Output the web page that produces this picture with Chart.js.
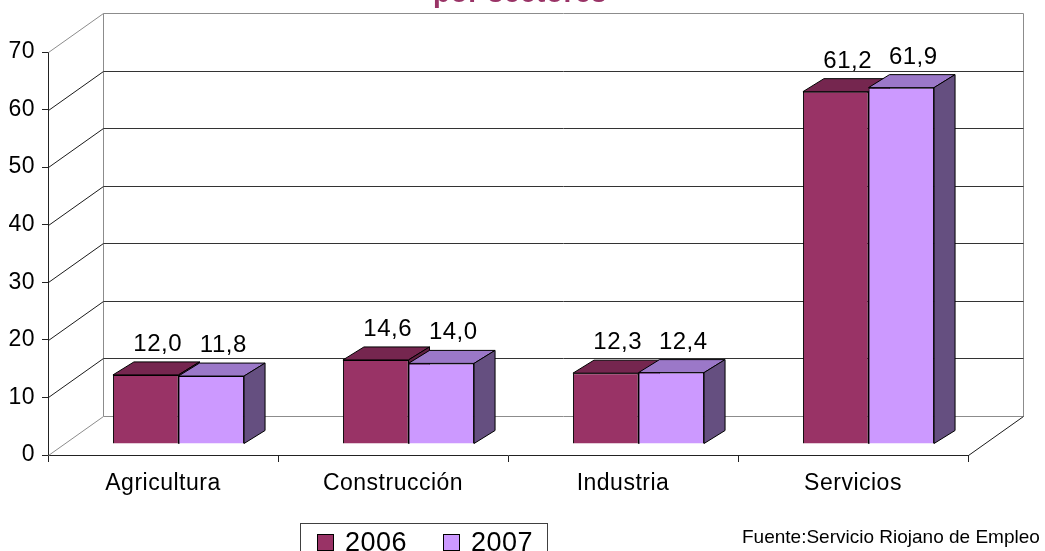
<!DOCTYPE html>
<html><head><meta charset="utf-8">
<script src="https://cdn.jsdelivr.net/npm/chart.js@4.4.1/dist/chart.umd.min.js"></script>
<style>html,body{margin:0;padding:0;background:#fff;overflow:hidden}canvas{display:block}</style>
</head><body>
<canvas id="c" width="1045" height="551"></canvas>
<script>
const categories = ['Agricultura', 'Construcción', 'Industria', 'Servicios'];
const series2006 = [12.0, 14.6, 12.3, 61.2];
const series2007 = [11.8, 14.0, 12.4, 61.9];
const seriesLabels = ['2006', '2007'];
const yTicks = [0, 10, 20, 30, 40, 50, 60, 70];
const titleText = 'por sectores';
const sourceText = 'Fuente:Servicio Riojano de Empleo';

const FONT = "'Liberation Sans', Arial, Helvetica, sans-serif";
const FRONT = ['#993366', '#CC99FF'];
const TOP = ['#75264F', '#9B78C8'];
const SIDE = ['#5E1F40', '#654F80'];
const BAR_DX = 15.5, BAR_DY = -11;
const DEPTH_DX = 21, DEPTH_DY = -13;
const WALL_DX = 55, WALL_DY = -39;

function poly(ctx, pts, fill) {
  ctx.beginPath();
  ctx.moveTo(pts[0][0], pts[0][1]);
  for (let k = 1; k < pts.length; k++) ctx.lineTo(pts[k][0], pts[k][1]);
  ctx.closePath();
  ctx.fillStyle = fill; ctx.fill();
  ctx.strokeStyle = '#000'; ctx.lineWidth = 1; ctx.stroke();
}

const threeD = {
  id: 'threeD',
  beforeDraw(chart) {
    chart.ctx.letterSpacing = '0.5px';
  },
  beforeDatasetsDraw(chart) {
    const { ctx, chartArea: a, scales: { y } } = chart;
    const L = a.left + 0.5, R = a.right + 0.5;
    ctx.save();
    ctx.lineWidth = 1;
    const maxV = yTicks[yTicks.length - 1];
    const topBack = Math.round(y.getPixelForValue(maxV)) + 0.5 + WALL_DY;
    const botBack = Math.round(y.getPixelForValue(0)) + 0.5 + WALL_DY;
    ctx.strokeStyle = '#8c8c8c';
    ctx.beginPath();
    ctx.moveTo(L + WALL_DX, topBack); ctx.lineTo(L + WALL_DX, botBack);
    ctx.moveTo(R + WALL_DX, topBack); ctx.lineTo(R + WALL_DX, botBack);
    ctx.stroke();
    yTicks.forEach(v => {
      const py = Math.round(y.getPixelForValue(v)) + 0.5;
      const edge = (v === 0 || v === maxV);
      ctx.beginPath();
      ctx.moveTo(L, py); ctx.lineTo(L + WALL_DX, py + WALL_DY);
      ctx.strokeStyle = edge ? '#8c8c8c' : '#1a1a1a';
      ctx.stroke();
      ctx.beginPath();
      ctx.moveTo(L + WALL_DX, py + WALL_DY); ctx.lineTo(R + WALL_DX, py + WALL_DY);
      ctx.strokeStyle = edge ? '#8c8c8c' : '#333';
      ctx.stroke();
      if (v === 0) {
        ctx.beginPath();
        ctx.moveTo(R, py); ctx.lineTo(R + WALL_DX, py + WALL_DY);
        ctx.strokeStyle = '#1a1a1a';
        ctx.stroke();
      }
    });
    ctx.restore();
    ctx.save();
    ctx.translate(BAR_DX, BAR_DY);
    categories.forEach((c, i) => {
      chart.data.datasets.forEach((ds, d) => {
        const el = chart.getDatasetMeta(d).data[i];
        const p = el.getProps(['x', 'y', 'base', 'width'], true);
        const l = p.x - p.width / 2, r = p.x + p.width / 2;
        poly(ctx, [[l, p.y], [r, p.y], [r + DEPTH_DX, p.y + DEPTH_DY], [l + DEPTH_DX, p.y + DEPTH_DY]], TOP[d]);
        poly(ctx, [[r, p.y], [r + DEPTH_DX, p.y + DEPTH_DY], [r + DEPTH_DX, p.base + DEPTH_DY], [r, p.base]], SIDE[d]);
      });
    });
  },
  afterDatasetsDraw(chart) {
    const { ctx } = chart;
    ctx.font = '24px ' + FONT;
    ctx.fillStyle = '#000';
    ctx.textAlign = 'center';
    ctx.textBaseline = 'alphabetic';
    chart.data.datasets.forEach((ds, d) => {
      chart.getDatasetMeta(d).data.forEach((el, i) => {
        const txt = ds.data[i].toFixed(1).replace('.', ',');
        ctx.fillText(txt, el.x + 12, el.y - 24);
      });
    });
    ctx.restore();
  },
  afterDraw(chart) {
    const { ctx } = chart;
    ctx.save();
    ctx.font = 'bold 28px ' + FONT;
    ctx.fillStyle = '#993366';
    ctx.textAlign = 'center';
    ctx.textBaseline = 'alphabetic';
    ctx.fillText(titleText, 520, 2);
    ctx.strokeStyle = '#404040';
    ctx.lineWidth = 1;
    ctx.strokeRect(300.5, 523.5, 247, 40);
    const lx = [317, 443];
    ctx.font = '27px ' + FONT;
    ctx.textAlign = 'left';
    chart.data.datasets.forEach((ds, d) => {
      ctx.fillStyle = FRONT[d];
      ctx.fillRect(lx[d] + 0.5, 534.5, 16, 16);
      ctx.strokeStyle = '#000';
      ctx.strokeRect(lx[d] + 0.5, 534.5, 16, 16);
      ctx.fillStyle = '#000';
      ctx.fillText(ds.label, lx[d] + 28, 551);
    });
    ctx.font = '19px ' + FONT;
    ctx.letterSpacing = '0px';
    ctx.fillStyle = '#000';
    ctx.fillText(sourceText, 742, 543);
    ctx.restore();
  }
};

new Chart(document.getElementById('c'), {
  type: 'bar',
  data: {
    labels: categories,
    datasets: [
      { label: seriesLabels[0], data: series2006, backgroundColor: FRONT[0], borderColor: '#000', borderWidth: 1, clip: false },
      { label: seriesLabels[1], data: series2007, backgroundColor: FRONT[1], borderColor: '#000', borderWidth: 1, clip: false }
    ]
  },
  options: {
    responsive: false,
    animation: false,
    devicePixelRatio: 1,
    layout: { padding: { top: 52, right: 77, left: 0, bottom: 0 } },
    datasets: { bar: { categoryPercentage: 0.57, barPercentage: 1.0 } },
    plugins: { legend: { display: false }, title: { display: false }, tooltip: { enabled: false } },
    events: [],
    scales: {
      x: {
        grid: { offset: true, drawOnChartArea: false, drawTicks: true, tickLength: 7, color: '#222' },
        border: { display: true, color: '#222' },
        ticks: { font: { family: FONT, size: 23 }, color: '#000', padding: 8, maxRotation: 0 },
        afterFit(s) { s.height = 96; }
      },
      y: {
        min: 0, max: 70,
        afterBuildTicks(s) { s.ticks = yTicks.map(v => ({ value: v })); },
        grid: { drawOnChartArea: false, drawTicks: true, tickLength: 6, color: '#222' },
        border: { display: true, color: '#222' },
        ticks: { font: { family: FONT, size: 23 }, color: '#000', padding: 7 },
        afterFit(s) { s.width = 48; }
      }
    }
  },
  plugins: [threeD]
});
</script>
</body></html>
